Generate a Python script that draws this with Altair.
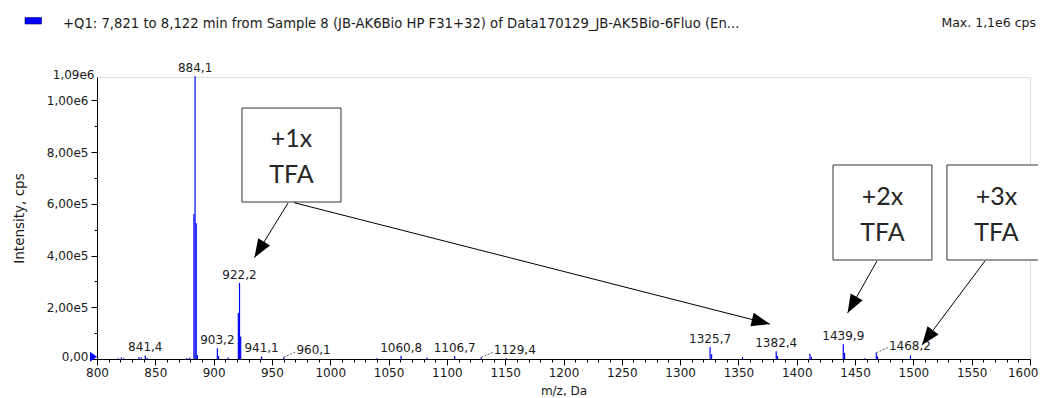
import math
import altair as alt
import pandas as pd

# ---------------- data ----------------
peak_mz = [818, 821, 823, 836, 838, 841.4, 843, 877, 879.5,
           883.1, 884.1, 885.1, 886.1, 903.2, 904.2, 912.5,
           921.2, 922.2, 923.2, 941.1, 960.1, 1040, 1060.8, 1083,
           1106.7, 1129.4, 1151, 1325.7, 1327.0, 1353.5, 1382.4, 1383.5,
           1411.3, 1412.5, 1439.9, 1441.0, 1458.5, 1468.2, 1469.3, 1497.5]
peak_int = [3000, 6000, 3000, 8000, 6000, 14000, 4000, 4000, 6000,
            560000, 1093000, 525000, 15000, 42000, 12000, 6000,
            178000, 294000, 87000, 10000, 7000, 3000, 13000, 6000,
            12000, 6000, 3000, 46000, 18000, 7000, 30000, 12000,
            20000, 9000, 57000, 24000, 3000, 24000, 10000, 14000]

label_mz = [841.4, 884.1, 903.2, 922.2, 941.1, 1060.8, 1106.7, 1325.7, 1382.4, 1439.9]
label_txt = ["841,4", "884,1", "903,2", "922,2", "941,1", "1060,8", "1106,7", "1325,7", "1382,4", "1439,9"]
leader_mz = [960.1, 1129.4, 1468.2]
leader_txt = ["960,1", "1129,4", "1468,2"]

box_x0 = [924.3, 1431.1, 1528.8]
box_x1 = [1009.2, 1515.9, 1613.7]
box_y0 = [606800, 382600, 382600]
box_y1 = [970000, 749800, 749800]
box_lines = [["+1x", "TFA"], ["+2x", "TFA"], ["+3x", "TFA"]]

arrow_x0 = [963.8, 969.2, 1468.8, 1561.4]
arrow_y0 = [603000, 604000, 379000, 379000]
arrow_x1 = [935.0, 1377.0, 1443.6, 1507.4]
arrow_y1 = [392000, 135000, 178000, 54000]

marker_mz = [800]
marker_int = [9000]

header_text = "+Q1: 7,821 to 8,122 min from Sample 8 (JB-AK6Bio HP F31+32) of Data170129_JB-AK5Bio-6Fluo (En..."
max_text = "Max. 1,1e6 cps"

# ---------------- layout ----------------
W, H = 933, 282
XDOM = [800, 1600]
YDOM = [0, 1090000]
LEAD_DMZ = 10
LEAD_DINT = 20000

peaks = pd.DataFrame({"mz": peak_mz, "intensity": peak_int})
lookup = dict(zip(peak_mz, peak_int))
labels = pd.DataFrame({"mz": label_mz, "intensity": [lookup[m] for m in label_mz], "txt": label_txt})
leaders = pd.DataFrame({"mz": leader_mz, "intensity": [lookup[m] for m in leader_mz], "txt": leader_txt})
leaders["mz2"] = leaders["mz"] + LEAD_DMZ
leaders["int2"] = leaders["intensity"] + LEAD_DINT
boxes = pd.DataFrame({"x0": box_x0, "x1": box_x1, "y0": box_y0, "y1": box_y1, "lines": box_lines})
boxes["xc"] = (boxes["x0"] + boxes["x1"]) / 2
boxes["yc"] = (boxes["y0"] + boxes["y1"]) / 2

sx = W / (XDOM[1] - XDOM[0])
sy = H / (YDOM[1] - YDOM[0])
angles = []
for a, b, c, d in zip(arrow_x0, arrow_y0, arrow_x1, arrow_y1):
    dx = (c - a) * sx
    dy = -(d - b) * sy
    angles.append(math.degrees(math.atan2(dx, -dy)) % 360)
arrows = pd.DataFrame({"mz": arrow_x0, "intensity": arrow_y0, "mz2": arrow_x1, "int2": arrow_y1})
heads = pd.DataFrame({"mz": arrow_x1, "intensity": arrow_y1, "angle": angles})
marker = pd.DataFrame({"mz": marker_mz, "intensity": marker_int})

LABEL_FONT = "DejaVu Sans"
TXT = "#1a1a1a"

xscale = alt.Scale(domain=XDOM, nice=False, zero=False)
yscale = alt.Scale(domain=YDOM, nice=False, zero=False)

x_axis = alt.Axis(
    values=list(range(800, 1601, 10)),
    format="d",
    labelExpr="datum.value % 50 === 0 ? datum.label : ''",
    tickSize={"condition": {"test": "datum.value % 50 === 0", "value": 6}, "value": 3},
    labelAlign={"condition": {"test": "datum.value === 1600", "value": "right"}, "value": "center"},
    labelOffset={"condition": {"test": "datum.value === 1600", "value": 8}, "value": 0},
    labelOverlap=False, labelFlush=False, grid=False,
    domainColor="black", tickColor="black", labelColor=TXT,
    labelFont=LABEL_FONT, labelFontSize=12, labelPadding=2,
    title="m/z, Da", titleFont=LABEL_FONT, titleFontSize=12,
    titleFontWeight="normal", titleColor=TXT, titleY=31, titleBaseline="middle",
)
y_vals = [i * 100000 for i in range(11)] + [1090000]
y_axis = alt.Axis(
    values=y_vals,
    labelExpr=("(datum.value % 200000 === 0 || datum.value === 1090000) ? "
               "(datum.value === 0 ? '0,00' : replace(replace(format(datum.value, '.2e'), '.', ','), 'e+', 'e')) : ''"),
    tickSize={"condition": [{"test": "datum.value === 1090000", "value": 0},
                            {"test": "datum.value % 200000 === 0", "value": 6}], "value": 3},
    labelOffset={"condition": {"test": "datum.value === 1090000 || datum.value === 0", "value": -3}, "value": 0},
    labelOverlap=False, labelFlush=False, grid=False,
    domainColor="black", tickColor="black", labelColor=TXT,
    labelFont=LABEL_FONT, labelFontSize=12, labelPadding=3,
    title="Intensity, cps", titleFont=LABEL_FONT, titleFontSize=13.5,
    titleFontWeight="normal", titleColor=TXT, titleX=-78, titleY=H / 2,
    titleAlign="center", titleBaseline="middle", titleAngle=270,
)


def X(field="mz"):
    return alt.X(f"{field}:Q", scale=xscale, axis=x_axis)


def Y(field="intensity"):
    return alt.Y(f"{field}:Q", scale=yscale, axis=y_axis)


base = alt.Chart(peaks).mark_rule(color="#0000ff", strokeWidth=1.2).encode(
    x=X(), y=Y(), y2=alt.datum(0),
)

peak_labels = alt.Chart(labels).mark_text(
    font=LABEL_FONT, fontSize=12, color=TXT, align="center", baseline="alphabetic", dy=-4
).encode(x=X(), y=Y(), text="txt:N")

leader_lines = alt.Chart(leaders).mark_rule(
    color="#333333", strokeWidth=0.8, strokeDash=[2, 1.5]
).encode(x=X(), y=Y(), x2="mz2:Q", y2="int2:Q")

leader_labels = alt.Chart(leaders).mark_text(
    font=LABEL_FONT, fontSize=12, color=TXT, align="left", baseline="alphabetic", dx=1, dy=2
).encode(x=X("mz2"), y=Y("int2"), text="txt:N")

marker_layer = alt.Chart(marker).mark_point(
    shape="M0,0 L-1.4,-1 L-1.4,1 Z", size=100, filled=True, color="#0000ff", opacity=1
).encode(x=X(), y=Y())

box_rects = alt.Chart(boxes).mark_rect(
    fill="white", stroke="#333333", strokeWidth=1
).encode(x=X("x0"), x2="x1:Q", y=Y("y0"), y2="y1:Q")

box_text = alt.Chart(boxes).mark_text(
    font="Lato", fontSize=25, lineHeight=36, color="#262626",
    align="center", baseline="middle", dy=-16
).encode(x=X("xc"), y=Y("yc"), text="lines")

arrow_lines = alt.Chart(arrows).mark_rule(color="black", strokeWidth=1).encode(
    x=X(), y=Y(), x2="mz2:Q", y2="int2:Q"
)
arrow_heads = alt.Chart(heads).mark_point(
    shape="M0,0 L-0.75,2 L0.75,2 Z", size=340, filled=True, color="black", opacity=1
).encode(x=X(), y=Y(), angle=alt.Angle("angle:Q", scale=None))

one = pd.DataFrame({"a": [0]})
legend_sq = alt.Chart(one).mark_rect(fill="#0000ff", stroke="#000066", strokeWidth=0.6).encode(
    x=alt.value(-72), x2=alt.value(-55.5), y=alt.value(-59.5), y2=alt.value(-53)
)
header = alt.Chart(one).mark_text(
    font=LABEL_FONT, fontSize=13.2, color=TXT, align="left", baseline="middle"
).encode(x=alt.value(-34), y=alt.value(-53), text=alt.value(header_text))
max_lbl = alt.Chart(one).mark_text(
    font=LABEL_FONT, fontSize=12.5, color=TXT, align="right", baseline="middle"
).encode(x=alt.value(939), y=alt.value(-54), text=alt.value(max_text))

chart = alt.layer(
    base, marker_layer, peak_labels, leader_lines, leader_labels,
    box_rects, arrow_lines, arrow_heads, box_text,
    legend_sq, header, max_lbl,
).properties(
    width=W, height=H,
    autosize=alt.AutoSizeParams(type="none"),
    padding={"left": 89, "top": 69, "right": 8, "bottom": 39},
).configure_view(strokeWidth=0).configure(background="white")

chart.save("out.html", embed_options={"renderer": "svg", "actions": False})
